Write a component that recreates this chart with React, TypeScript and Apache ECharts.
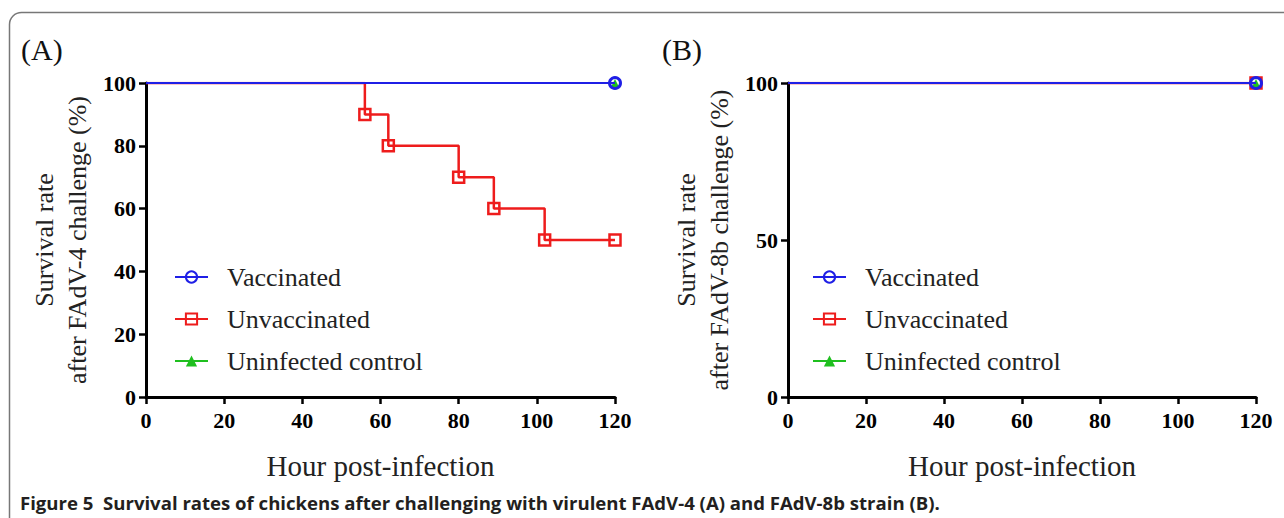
import React, { useEffect, useRef } from "react";
import * as echarts from "echarts";

// ---- data (hours post-infection, survival %) ----
const seriesNames = ["Vaccinated", "Unvaccinated", "Uninfected control"];
const vaccinatedA: [number, number][] = [[0, 100], [120, 100]];
const unvaccinatedA: [number, number][] = [
  [0, 100], [56, 90], [62, 80], [80, 70], [89, 60], [102, 50], [120, 50],
];
const controlA: [number, number][] = [[0, 100], [120, 100]];
const vaccinatedB: [number, number][] = [[0, 100], [120, 100]];
const unvaccinatedB: [number, number][] = [[0, 100], [120, 100]];
const controlB: [number, number][] = [[0, 100], [120, 100]];

const panelLabels = ["(A)", "(B)"];
const yTitles = [
  "Survival rate\nafter FAdV-4 challenge (%)",
  "Survival rate\nafter FAdV-8b challenge (%)",
];
const xTitle = "Hour post-infection";
const yIntervals = [20, 50];
const caption =
  "Figure 5  Survival rates of chickens after challenging with virulent FAdV-4 (A) and FAdV-8b strain (B).";

const BLUE = "#1f1fe6";
const RED = "#ee1c1c";
const GREEN = "#1fbf1f";
const SERIF = "'Liberation Serif', 'Times New Roman', serif";

function withMarkers(pts: [number, number][]) {
  return pts.map((p, i) => (i === 0 ? { value: p, symbol: "none" } : { value: p }));
}

export default function App() {
  const ref = useRef<HTMLDivElement>(null);
  useEffect(() => {
    if (!ref.current) return;
    const chart = echarts.init(ref.current, null, { renderer: "svg" });

    // measure caption to fit its width in the reference (x 20 → 940)
    const capFont = "bold 18px 'Open Sans'";
    let capScale = 0.94;
    try {
      const ctx = document.createElement("canvas").getContext("2d");
      if (ctx) {
        ctx.font = capFont;
        const w = ctx.measureText(caption).width;
        if (w > 0) capScale = 920 / w;
      }
    } catch (e) {}

    const grids = [
      { left: 146, top: 83, width: 469, height: 314 },
      { left: 788, top: 83, width: 468, height: 314 },
    ];

    const xAxes = grids.map((_, i) => ({
      type: "value",
      gridIndex: i,
      min: 0,
      max: 120,
      interval: 20,
      axisLine: { show: true, onZero: false, lineStyle: { color: "#000", width: 3 } },
      axisTick: { show: true, length: 7, lineStyle: { color: "#000", width: 2.5 } },
      axisLabel: { color: "#000", fontFamily: SERIF, fontWeight: "bold", fontSize: 22, margin: 12 },
      splitLine: { show: false },
      name: xTitle,
      nameLocation: "middle",
      nameGap: 54,
      nameTextStyle: { fontFamily: SERIF, fontSize: 29, color: "#222" },
    }));

    const yAxes = grids.map((_, i) => ({
      type: "value",
      gridIndex: i,
      min: 0,
      max: 100,
      interval: yIntervals[i],
      axisLine: { show: true, onZero: false, lineStyle: { color: "#000", width: 3 } },
      axisTick: { show: true, length: 7, lineStyle: { color: "#000", width: 2.5 } },
      axisLabel: { color: "#000", fontFamily: SERIF, fontWeight: "bold", fontSize: 22, margin: 10 },
      splitLine: { show: false },
      name: yTitles[i],
      nameLocation: "middle",
      nameRotate: 90,
      nameGap: 52,
      nameTextStyle: { fontFamily: SERIF, fontSize: 26, color: "#222", lineHeight: 33 },
    }));

    const panels = [
      [vaccinatedA, unvaccinatedA, controlA],
      [vaccinatedB, unvaccinatedB, controlB],
    ];

    const series: any[] = [];
    panels.forEach((p, i) => {
      // red (bottom), green, blue (top)
      series.push({
        name: seriesNames[1],
        type: "line",
        xAxisIndex: i,
        yAxisIndex: i,
        step: "end",
        data: withMarkers(p[1]),
        symbol: "rect",
        symbolSize: 11,
        lineStyle: { color: RED, width: 2.5 },
        itemStyle: { color: "rgba(255,255,255,0)", borderColor: RED, borderWidth: 2.5 },
        z: 2,
      });
      series.push({
        name: seriesNames[2],
        type: "line",
        xAxisIndex: i,
        yAxisIndex: i,
        step: "end",
        data: withMarkers(p[2]),
        symbol: "triangle",
        symbolSize: 8,
        lineStyle: { color: GREEN, width: 2 },
        itemStyle: { color: GREEN, borderWidth: 0 },
        z: 3,
      });
      series.push({
        name: seriesNames[0],
        type: "line",
        xAxisIndex: i,
        yAxisIndex: i,
        step: "end",
        data: withMarkers(p[0]),
        symbol: "circle",
        symbolSize: 11,
        lineStyle: { color: BLUE, width: 2 },
        itemStyle: { color: "rgba(255,255,255,0)", borderColor: BLUE, borderWidth: 3 },
        z: 4,
      });
    });

    const legendBase = {
      orient: "vertical",
      top: 263,
      padding: 0,
      itemWidth: 33,
      itemHeight: 14,
      itemGap: 14,
      selectedMode: false,
      data: seriesNames,
      textStyle: {
        fontFamily: SERIF,
        fontSize: 26,
        color: "#222",
        lineHeight: 28,
        padding: [0, 0, 0, 14],
      },
    };

    chart.setOption({
      animation: false,
      backgroundColor: "#fff",
      grid: grids,
      xAxis: xAxes,
      yAxis: yAxes,
      legend: [
        { ...legendBase, left: 174 },
        { ...legendBase, left: 812 },
      ],
      series,
      graphic: [
        {
          type: "rect",
          shape: { x: 9.5, y: 12.5, width: 1320, height: 560, r: 12 },
          style: { fill: "none", stroke: "#777", lineWidth: 1.5 },
          silent: true,
        },
        {
          type: "text",
          left: 21,
          top: 34,
          style: { text: panelLabels[0], font: `30px ${SERIF}`, fill: "#111" },
        },
        {
          type: "text",
          left: 662,
          top: 34,
          style: { text: panelLabels[1], font: `30px ${SERIF}`, fill: "#111" },
        },
        {
          type: "text",
          x: 20,
          y: 503,
          scaleX: capScale,
          style: {
            text: caption,
            font: capFont,
            fill: "#231f20",
            verticalAlign: "middle",
            align: "left",
          },
        },
      ],
    });
    return () => chart.dispose();
  }, []);
  return (
    <div
      ref={ref}
      style={{ position: "fixed", left: 0, top: 0, width: 1284, height: 518, background: "#fff" }}
    />
  );
}
